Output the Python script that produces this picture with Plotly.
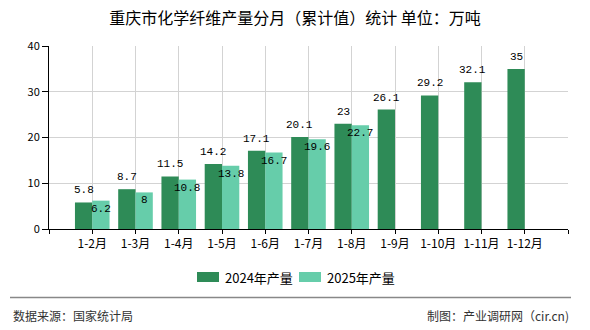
import plotly.graph_objects as go

categories = ["1-2月", "1-3月", "1-4月", "1-5月", "1-6月", "1-7月", "1-8月",
              "1-9月", "1-10月", "1-11月", "1-12月"]
series_names = ["2024年产量", "2025年产量"]
values_2024 = [5.8, 8.7, 11.5, 14.2, 17.1, 20.1, 23, 26.1, 29.2, 32.1, 35]
values_2025 = [6.2, 8, 10.8, 13.8, 16.7, 19.6, 22.7, None, None, None, None]
y_ticks = [0, 10, 20, 30, 40]
colors = ["#2E8B57", "#66CDAA"]

title_text = "重庆市化学纤维产量分月（累计值）统计 单位：万吨"
source_text = "数据来源：国家统计局"
maker_text = "制图：产业调研网（cir.cn)"

W, H = 590, 330
ML, MR, MT, MB = 49, 22, 46, 101
PW, PH = W - ML - MR, H - MT - MB

def px(x):
    return (x - ML) / PW

def py(y):
    return (H - MB - y) / PH

xs = list(range(len(categories)))
CJK = "Noto Sans CJK SC"
MONO = "Liberation Mono"

fig = go.Figure()
for name, vals, col in zip(series_names, [values_2024, values_2025], colors):
    fig.add_trace(go.Bar(x=xs, y=vals, name=name, marker_color=col,
                         marker_line_width=0, showlegend=False))

annotations = []
for i, v in enumerate(values_2024):
    if v is not None:
        annotations.append(dict(x=i - 0.2, y=v, xref="x", yref="y", text=f"{v:g}",
                                showarrow=False, yanchor="middle", yshift=12,
                                font=dict(family=MONO, size=11, color="#000")))
for i, v in enumerate(values_2025):
    if v is not None:
        annotations.append(dict(x=i + 0.2, y=v, xref="x", yref="y", text=f"{v:g}",
                                showarrow=False, yanchor="middle", yshift=-8,
                                font=dict(family=MONO, size=11, color="#000")))

# custom legend
shapes = []
leg_x = [197, 299]
for k, (name, col) in enumerate(zip(series_names, colors)):
    x0 = leg_x[k]
    shapes.append(dict(type="rect", xref="paper", yref="paper",
                       x0=px(x0), x1=px(x0 + 22), y0=py(282), y1=py(272),
                       fillcolor=col, line_width=0))
    annotations.append(dict(x=px(x0 + 26), y=py(277), xref="paper", yref="paper",
                            text=name, showarrow=False, xanchor="left", yanchor="middle",
                            font=dict(family=CJK, size=13, color="#000")))

# footer
shapes.append(dict(type="line", xref="paper", yref="paper",
                   x0=px(10), x1=px(571), y0=py(297.5), y1=py(297.5),
                   line=dict(color="#888888", width=1.5)))
annotations.append(dict(x=px(11), y=py(315), xref="paper", yref="paper", text=source_text,
                        showarrow=False, xanchor="left", yanchor="middle",
                        font=dict(family=CJK, size=12, color="#333")))
annotations.append(dict(x=px(571), y=py(315), xref="paper", yref="paper", text=maker_text,
                        showarrow=False, xanchor="right", yanchor="middle",
                        font=dict(family=CJK, size=12, color="#333")))

fig.update_layout(
    width=W, height=H,
    margin=dict(l=ML, r=MR, t=MT, b=MB),
    paper_bgcolor="white", plot_bgcolor="white",
    barmode="group", bargap=0.2, bargroupgap=0,
    title=dict(text=title_text, x=0.5, xref="container", xanchor="center",
               y=1 - 18 / H, yref="container", yanchor="middle",
               font=dict(family=CJK, size=16, color="#000")),
    showlegend=False,
    annotations=annotations,
    shapes=shapes,
    xaxis=dict(
        range=[-1, len(categories)],
        tickmode="array",
        tickvals=list(range(-1, len(categories) + 1)),
        ticktext=[""] + categories + [""],
        showgrid=True, gridcolor="#d3d3d3", gridwidth=1,
        showline=True, linecolor="#000", linewidth=1,
        ticks="outside", ticklen=4, tickcolor="#000",
        tickfont=dict(family=CJK, size=12, color="#000"),
        zeroline=False,
    ),
    yaxis=dict(
        range=[0, 40],
        tickmode="array", tickvals=y_ticks,
        showgrid=True, gridcolor="#d3d3d3", gridwidth=1,
        showline=True, linecolor="#000", linewidth=1,
        ticks="outside", ticklen=6, tickcolor="#000",
        tickfont=dict(family=CJK, size=11, color="#000"),
        zeroline=False,
    ),
)

fig.write_html("out.html")
